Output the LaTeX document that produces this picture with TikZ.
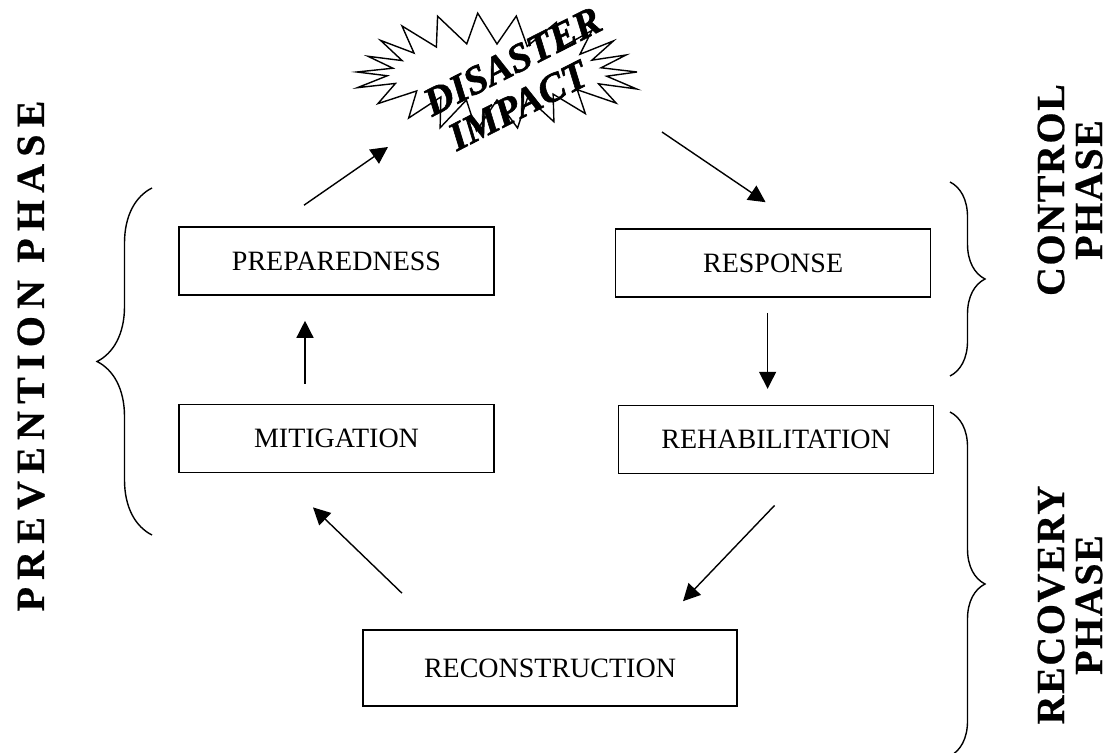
\documentclass[tikz,border=0pt]{standalone}
\usepackage{fontspec}
\setmainfont{Liberation Serif}
\usetikzlibrary{positioning, arrows.meta, decorations.pathreplacing}

\begin{document}
\begin{tikzpicture}[
  x=0.5pt, y=-0.5pt,
  box/.style={draw, line width=0.8pt, minimum width=157.5pt, minimum height=34pt,
              inner sep=0pt, font=\fontsize{14}{17}\selectfont},
  arr/.style={-{Triangle[length=8.5pt, width=8.5pt]}, line width=0.7pt},
  curly/.style={decorate, decoration={brace, amplitude=#1}, line width=0.7pt},
  phase/.style={rotate=90, align=center,
                font=\fontsize{20}{19}\selectfont\bfseries\addfontfeature{LetterSpace=#1, FakeBold=0.6}},
  phase/.default=4,
]
  \useasboundingbox (0,0) rectangle (1112,753);

  % the five stages
  \node[box] (prep) at (336.5,261) {PREPAREDNESS};
  \node[box, right=60pt of prep, yshift=-1pt] (resp) {RESPONSE};
  \node[box, below=54pt of prep] (mitig) {MITIGATION};
  \node[box, below=53.5pt of resp, xshift=1.5pt] (rehab) {REHABILITATION};
  \node[box, minimum width=187pt, minimum height=38pt] (recon) at (550,668) {RECONSTRUCTION};

  % disaster burst
  \coordinate (impact) at (497,72);
  \draw[line width=0.7pt, line join=miter, shift={(impact)}]
    plot[domain=0:360, samples=45]
      ({(124+16*cos(22*\x))*(1+0.04*sin(5*\x))*cos(\x)},
       {(43+15*cos(22*\x))*(1+0.06*cos(3*\x))*sin(\x)}) -- cycle;
  \node[rotate=27, align=center,
        font=\fontsize{20}{21}\selectfont\bfseries\itshape\addfontfeature{FakeBold=1.5}]
    (impacttxt) at (522,80) {DISASTER\\IMPACT\hspace*{15pt}};

  % phase labels
  \node[phase=18] (prevention) at (31,356) {PREVENTION PHASE};
  \node[phase] (control) at (1070,190) {CONTROL\\PHASE};
  \node[phase] (recovery) at (1070,605) {RECOVERY\\PHASE};

  % braces
  \coordinate (prevbot) at (152,535);
  \coordinate (prevtop) at (152,188);
  \coordinate (ctrltop) at (950,182);
  \coordinate (ctrlbot) at (950,376);
  \coordinate (recvtop) at (950,412);
  \coordinate (recvbot) at (950,756);
  \draw[curly=27.5pt] (prevbot) -- (prevtop);
  \draw[curly=17.5pt] (ctrltop) -- (ctrlbot);
  \draw[curly=17.5pt] (recvtop) -- (recvbot);

  % the cycle
  \draw[arr] ([shift={(-32.5,-21)}]prep.north) -- ([shift={(-109,75)}]impact);
  \draw[arr] ([shift={(165,60)}]impact) -- ([shift={(-7.5,-26)}]resp.north);
  \draw[arr] ([shift={(-5.5,15)}]resp.south) -- ([shift={(-8.5,-16)}]rehab.north);
  \draw[arr] ([shift={(-1.5,31)}]rehab.south) -- ([shift={(133,-28)}]recon.north);
  \draw[arr] ([shift={(-148,-36)}]recon.north) -- ([shift={(-23.5,34)}]mitig.south);
  \draw[arr] ([shift={(-31.5,-20)}]mitig.north) -- ([shift={(-31.5,25)}]prep.south);
\end{tikzpicture}
\end{document}
